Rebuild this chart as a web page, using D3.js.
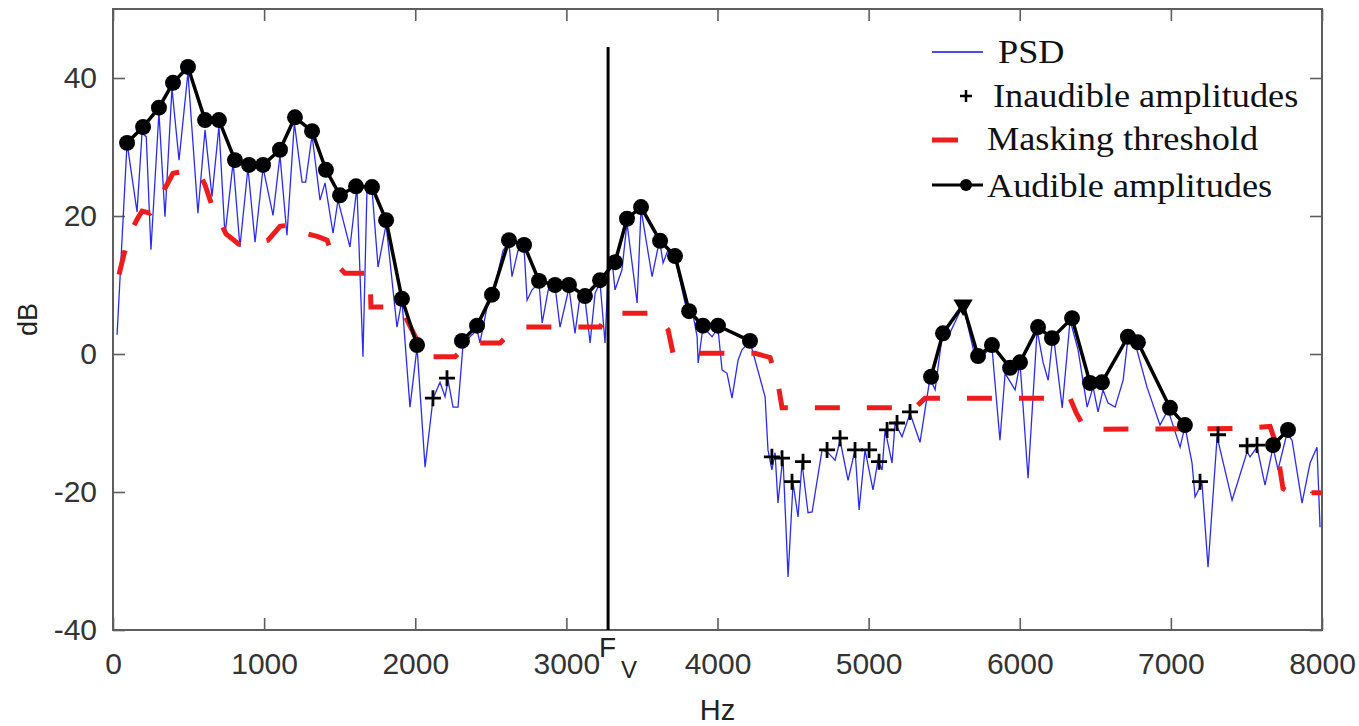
<!DOCTYPE html>
<html>
<head>
<meta charset="utf-8">
<script src="https://cdn.jsdelivr.net/npm/d3@7"></script>
<style>
  body { margin: 0; background: #fff; }
  svg { display: block; }
</style>
</head>
<body>
<script>
// ---- data ----
var psdHz = [27,93,159,192,220,251,304,344,390,437,496,562,609,655,701,741,795,840,893,940,993,1059,1105,1151,1200,1251,1275,1317,1370,1403,1456,1489,1568,1614,1654,1681,1714,1754,1807,1879,1912,1965,2012,2065,2118,2164,2197,2217,2250,2283,2316,2362,2409,2428,2475,2508,2581,2620,2640,2680,2720,2740,2773,2819,2840,2880,2925,2958,3004,3017,3057,3090,3123,3157,3190,3223,3256,3276,3302,3322,3368,3401,3468,3494,3567,3607,3620,3640,3673,3719,3785,3812,3832,3865,3872,3904,3964,4003,4030,4063,4096,4136,4162,4215,4315,4334,4360,4381,4400,4433,4467,4500,4533,4559,4599,4626,4692,4731,4778,4811,4864,4910,4937,4976,5029,5062,5089,5109,5155,5175,5221,5274,5340,5406,5440,5486,5526,5625,5704,5770,5816,5869,5903,5969,6002,6055,6115,6155,6188,6221,6281,6333,6386,6446,6485,6518,6551,6584,6631,6684,6716,6763,6842,6928,6981,7061,7093,7140,7160,7206,7246,7306,7405,7504,7524,7570,7623,7676,7709,7768,7802,7868,7921,7967,7987];
var psdDb = [2.8,30.6,20.6,32.0,31.5,15.1,35.0,19.9,38.5,28.1,40.8,20.4,32.5,22.8,33.0,17.2,27.8,15.5,27.0,16.2,27.0,20.1,28.8,17.2,33.5,24.9,24.9,31.7,22.3,24.8,17.5,22.3,15.5,24.2,-0.4,24.2,23.8,12.6,18.8,3.9,7.8,-7.7,1.0,-16.4,-6.4,-4.1,-6.2,-3.8,-7.7,-7.7,1.3,2.5,3.5,1.6,6.8,8.0,15.0,16.2,11.2,15.0,15.3,7.8,9.3,10.3,4.5,9.3,9.8,3.9,8.3,9.6,3.0,8.3,8.0,1.6,8.8,10.3,1.6,11.5,13.6,9.3,12.2,19.0,7.4,21.0,11.2,15.5,16.0,13.2,15.1,14.0,7.4,6.0,6.4,2.5,-1.3,3.9,2.5,3.8,-2.3,-2.8,-6.4,-0.9,0.6,1.8,-6.2,-13.9,-16.8,-14.3,-21.6,-14.9,-32.3,-18.7,-23.6,-15.8,-23.0,-22.9,-13.9,-14.3,-15.4,-12.5,-18.3,-13.9,-22.6,-13.9,-19.7,-15.4,-16.8,-11.0,-15.8,-10.0,-12.0,-8.6,-12.8,-3.5,-5.2,2.5,2.5,7.1,-0.4,0.1,1.0,-12.5,-2.8,-5.2,-1.3,-18.0,3.5,-1.3,-3.8,3.0,-7.8,4.9,0.6,-7.7,-4.8,-8.4,-5.2,-7.1,-7.7,-3.8,2.3,1.6,-4.8,-10.3,-8.1,-13.5,-10.5,-15.8,-20.7,-18.7,-30.9,-12.0,-21.2,-14.2,-14.9,-13.5,-19.0,-13.5,-16.8,-11.5,-12.5,-21.6,-15.8,-13.5,-25.1];

// null = break in the audible line
var audHz = [93,199,304,397,496,609,701,807,900,993,1105,1204,1317,1409,1502,1608,1714,1807,1912,2012,null,
             2309,2409,2508,2620,2720,2819,2925,3017,3123,3223,3322,3401,3494,3620,3719,3812,3904,4003,4215,null,
             5413,5492,5625,5724,5816,5936,6002,6121,6213,6346,6465,6544,6716,6782,6994,7093,null,
             7676,7775];
var audDb = [30.6,32.9,35.7,39.3,41.6,33.9,33.9,28.1,27.4,27.4,29.6,34.3,32.3,26.7,23.0,24.3,24.2,19.4,8.0,1.3,null,
             1.9,4.1,8.6,16.5,15.8,10.6,10.0,10.0,8.4,10.7,13.3,19.6,21.3,16.4,14.2,6.2,4.1,4.1,1.9,null,
             -3.3,3.0,7.1,-0.3,1.3,-2.0,-1.2,3.9,2.3,5.2,-4.2,-4.1,2.5,1.7,-7.8,-10.3,null,
             -13.2,-11.0];
var peakHz = [5625];   // drawn as a down triangle
var inaudHz = [2117,2210,4360,4427,4493,4566,4725,4811,4910,5003,5069,5122,5188,5274,7193,7312,7504,7570];
var inaudDb = [-6.4,-3.5,-14.9,-15.1,-18.5,-15.6,-13.9,-12.2,-13.9,-13.9,-15.6,-11.0,-10.0,-8.4,-18.5,-11.7,-13.3,-13.2];

var maskHz = [40,73,112,159,192,245,291,331,397,483,576,609,655,748,840,1026,1105,1204,1271,1357,1416,1476,1535,1700,1707,1866,1932,2012,2065,2263,2362,2561,2640,2693,3223,3276,3587,3673,3706,4248,4348,4400,4427,5307,5373,6333,6373,6433,7491,7656,7696,7742,7788,8000];
var maskDb = [11.5,14.5,17.5,19.5,20.7,20.4,21.5,23.5,26.2,26.5,26.0,24.5,21.5,17.4,15.8,16.5,18.5,18.8,17.5,17.0,16.5,13.0,11.7,11.7,6.8,6.8,5.5,2.0,-0.4,-0.4,1.6,1.6,3.3,3.9,3.9,5.9,5.9,3.5,0.1,0.1,-0.5,-4.2,-7.8,-7.8,-6.4,-6.4,-8.5,-10.9,-10.8,-10.5,-13,-19.5,-20.1,-20.1];

var fvHz = 3276;
var xTicks = [0,1000,2000,3000,4000,5000,6000,7000,8000];
var yTicks = [-40,-20,0,20,40];
var legendLabels = ["PSD","Inaudible amplitudes","Masking threshold","Audible amplitudes"];

// ---- layout ----
var W = 1359, H = 726;
var mLeft = 113, mRight = 1322, mTop = 9, mBottom = 630;

var svg = d3.select('body').append('svg').attr('width', W).attr('height', H);

var x = d3.scaleLinear().domain([0, 8000]).range([mLeft, mRight]);
var y = d3.scaleLinear().domain([-40, 50]).range([mBottom, mTop]);

var axisColor = '#5e5e5e';
var sans = 'Liberation Sans, Arial, sans-serif';
var serif = 'Liberation Serif, Times New Roman, serif';
var plain = function(d) { return String(d); };

// axes (ticks point inward)
var gx = svg.append('g').attr('transform', 'translate(0,' + mBottom + ')')
  .call(d3.axisBottom(x).tickValues(xTicks).tickFormat(plain).tickSizeInner(-12).tickSizeOuter(0).tickPadding(23));
var gy = svg.append('g').attr('transform', 'translate(' + mLeft + ',0)')
  .call(d3.axisLeft(y).tickValues(yTicks).tickFormat(plain).tickSizeInner(-12).tickSizeOuter(0).tickPadding(16));
svg.append('g').attr('transform', 'translate(0,' + mTop + ')')
  .call(d3.axisTop(x).tickValues(xTicks).tickSizeInner(-12).tickSizeOuter(0).tickFormat(''));
svg.append('g').attr('transform', 'translate(' + mRight + ',0)')
  .call(d3.axisRight(y).tickValues(yTicks).tickSizeInner(-12).tickSizeOuter(0).tickFormat(''));

svg.selectAll('.domain').remove();
svg.selectAll('.tick line').attr('stroke', axisColor).attr('stroke-width', 1.6);
[gx, gy].forEach(function(g) {
  g.selectAll('text').attr('font-family', sans).attr('font-size', '30px').attr('fill', '#333');
});

svg.append('rect')
  .attr('x', mLeft).attr('y', mTop).attr('width', mRight - mLeft).attr('height', mBottom - mTop)
  .attr('fill', 'none').attr('stroke', axisColor).attr('stroke-width', 2);

var plot = svg.append('g');

// PSD
var psd = psdHz.map(function(h, i) { return [h, psdDb[i]]; });
plot.append('path')
  .attr('d', d3.line().x(function(d) { return x(d[0]); }).y(function(d) { return y(d[1]); })(psd))
  .attr('fill', 'none').attr('stroke', '#2b2bef').attr('stroke-width', 1.3);

// masking threshold
var mask = maskHz.map(function(h, i) { return [h, maskDb[i]]; });
plot.append('path')
  .attr('d', d3.line().x(function(d) { return x(d[0]); }).y(function(d) { return y(d[1]); })(mask))
  .attr('fill', 'none').attr('stroke', '#ee1c1c').attr('stroke-width', 5)
  .attr('stroke-dasharray', '25,27');

// audible amplitudes
var aud = audHz.map(function(h, i) { return [h, audDb[i]]; });
plot.append('path')
  .attr('d', d3.line().defined(function(d) { return d[0] !== null; })
    .x(function(d) { return x(d[0]); }).y(function(d) { return y(d[1]); })(aud))
  .attr('fill', 'none').attr('stroke', '#000').attr('stroke-width', 3.5).attr('stroke-linejoin', 'round');

var audPts = aud.filter(function(d) { return d[0] !== null; });
plot.selectAll('.aud').data(audPts).enter().append('path')
  .attr('class', 'aud')
  .attr('transform', function(d) { return 'translate(' + x(d[0]) + ',' + y(d[1]) + ')' + (peakHz.indexOf(d[0]) >= 0 ? ' rotate(180)' : ''); })
  .attr('d', function(d) {
    return peakHz.indexOf(d[0]) >= 0 ? d3.symbol(d3.symbolTriangle, 160)() : d3.symbol(d3.symbolCircle, 200)();
  })
  .attr('fill', '#000');

// inaudible amplitudes
plot.selectAll('.inaud').data(inaudHz).enter().append('path')
  .attr('class', 'inaud')
  .attr('transform', function(d, i) { return 'translate(' + x(d) + ',' + y(inaudDb[i]) + ')'; })
  .attr('d', 'M-8,0H8M0,-8V8')
  .attr('stroke', '#000').attr('stroke-width', 2.8);

// F_V marker line
plot.append('line')
  .attr('x1', x(fvHz)).attr('x2', x(fvHz)).attr('y1', y(44.5)).attr('y2', y(-40))
  .attr('stroke', '#000').attr('stroke-width', 3);

svg.append('text').attr('x', x(fvHz) - 9).attr('y', 657)
  .attr('font-family', sans).attr('font-size', '28px').attr('fill', '#222').text('F');
svg.append('text').attr('x', x(fvHz) + 13).attr('y', 678)
  .attr('font-family', sans).attr('font-size', '24px').attr('fill', '#222').text('V');

// axis titles
svg.append('text').attr('x', (mLeft + mRight) / 2).attr('y', 720)
  .attr('text-anchor', 'middle').attr('font-family', sans).attr('font-size', '29px').attr('fill', '#222')
  .text('Hz');
svg.append('text').attr('transform', 'translate(37,' + (mTop + mBottom) / 2 + ') rotate(-90)')
  .attr('text-anchor', 'middle').attr('font-family', sans).attr('font-size', '27px').attr('fill', '#222')
  .text('dB');

// legend
var lg = svg.append('g');
var rowY = [52, 96, 140, 185];
var textX = [998, 993, 987, 987];
var baseY = [63, 107, 150, 197];
lg.append('line').attr('x1', 932).attr('x2', 983).attr('y1', rowY[0]).attr('y2', rowY[0])
  .attr('stroke', '#4b4bef').attr('stroke-width', 2);
lg.append('path').attr('transform', 'translate(966,' + rowY[1] + ')').attr('d', 'M-6,0H6M0,-6V6')
  .attr('stroke', '#000').attr('stroke-width', 2.5);
lg.append('line').attr('x1', 932).attr('x2', 958).attr('y1', rowY[2]).attr('y2', rowY[2])
  .attr('stroke', '#ee1c1c').attr('stroke-width', 5);
lg.append('line').attr('x1', 932).attr('x2', 983).attr('y1', rowY[3]).attr('y2', rowY[3])
  .attr('stroke', '#000').attr('stroke-width', 3);
lg.append('circle').attr('cx', 966).attr('cy', rowY[3]).attr('r', 6).attr('fill', '#000');

lg.selectAll('.lt').data(legendLabels).enter().append('text')
  .attr('class', 'lt')
  .attr('transform', function(d, i) { return 'translate(' + textX[i] + ',' + baseY[i] + ') scale(1.1,1)'; })
  .attr('font-family', serif).attr('font-size', '33px').attr('fill', '#111')
  .text(function(d) { return d; });
</script>
</body>
</html>
